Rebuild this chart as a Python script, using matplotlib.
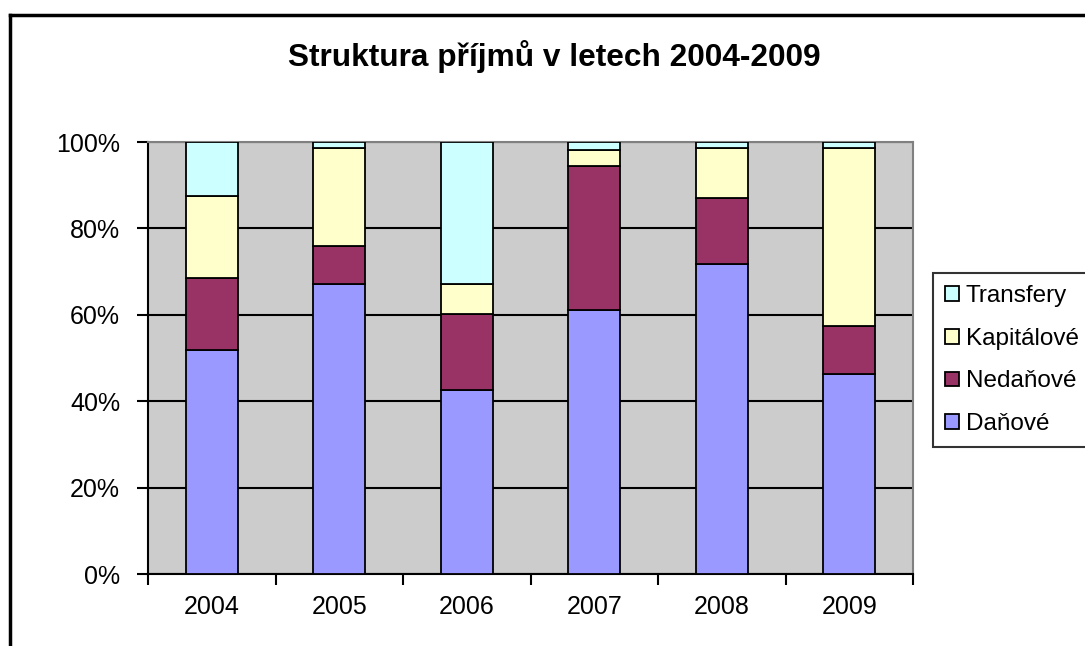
import matplotlib.pyplot as plt
from matplotlib.lines import Line2D
from matplotlib.ticker import PercentFormatter

plt.rcParams['font.family'] = ['Liberation Sans', 'DejaVu Sans']

# data (% of total income per year)
years = ["2004", "2005", "2006", "2007", "2008", "2009"]
danove = [51.9, 67.1, 42.6, 61.0, 71.7, 46.2]
nedanove = [16.7, 8.9, 17.7, 33.5, 15.3, 11.1]
kapitalove = [18.9, 22.5, 6.8, 3.6, 11.5, 41.3]
transfery = [12.5, 1.5, 32.9, 1.9, 1.5, 1.4]

series = [("Daňové", danove, "#9999FF"),
          ("Nedaňové", nedanove, "#993366"),
          ("Kapitálové", kapitalove, "#FFFFCC"),
          ("Transfery", transfery, "#CCFFFF")]

fig = plt.figure(figsize=(10.85, 6.46), dpi=100)
ax = fig.add_axes([148/1085, 72/646, 765/1085, 432/646])
ax.set_facecolor("#CCCCCC")

x = range(len(years))
bottom = [0.0] * len(years)
handles = []
for name, vals, col in series:
    bars = ax.bar(x, vals, width=0.41, bottom=bottom, color=col,
                  edgecolor="black", linewidth=1.3, label=name, zorder=3)
    handles.append(bars)
    bottom = [b + v for b, v in zip(bottom, vals)]

ax.set_xlim(-0.5, len(years) - 0.5)
ax.set_ylim(0, 100)
ax.set_yticks([0, 20, 40, 60, 80, 100])
ax.yaxis.set_major_formatter(PercentFormatter(decimals=0))
ax.grid(axis="y", color="black", linewidth=1.5, zorder=1)

ax.set_xticks(list(x))
ax.set_xticklabels(years)
ax.set_xticks([i - 0.5 for i in range(len(years) + 1)], minor=True)
ax.tick_params(axis="x", which="major", length=0, pad=15, labelsize=18)
ax.tick_params(axis="x", which="minor", length=8, width=1.5, direction="out")
ax.tick_params(axis="y", length=8, width=1.5, direction="out", pad=12, labelsize=18)

for side in ["top", "right"]:
    ax.spines[side].set_color("#808080")
    ax.spines[side].set_linewidth(1.5)
for side in ["left", "bottom"]:
    ax.spines[side].set_linewidth(1.5)

fig.text(554/1085, 1 - 57/646, "Struktura příjmů v letech 2004-2009",
         ha="center", va="center", fontsize=22.8, fontweight="bold")

# chart frame (cut off at right and bottom)
fig.add_artist(Line2D([10/1085, 1.0], [1 - 15/646, 1 - 15/646],
                      transform=fig.transFigure, color="black", linewidth=2.5))
fig.add_artist(Line2D([10/1085, 10/1085], [0.0, 1 - 15/646],
                      transform=fig.transFigure, color="black", linewidth=2.5))

leg = fig.legend(handles[::-1], [s[0] for s in series][::-1],
                 loc="upper left", bbox_to_anchor=(933/1085, 1 - 273/646),
                 fontsize=17.5, frameon=True, fancybox=False,
                 handlelength=0.55, handleheight=0.55, handletextpad=0.3,
                 labelspacing=0.85, borderpad=0.5, borderaxespad=0)
leg.get_frame().set_edgecolor("black")
leg.get_frame().set_linewidth(1.5)

fig.savefig("out.png", dpi=100)
